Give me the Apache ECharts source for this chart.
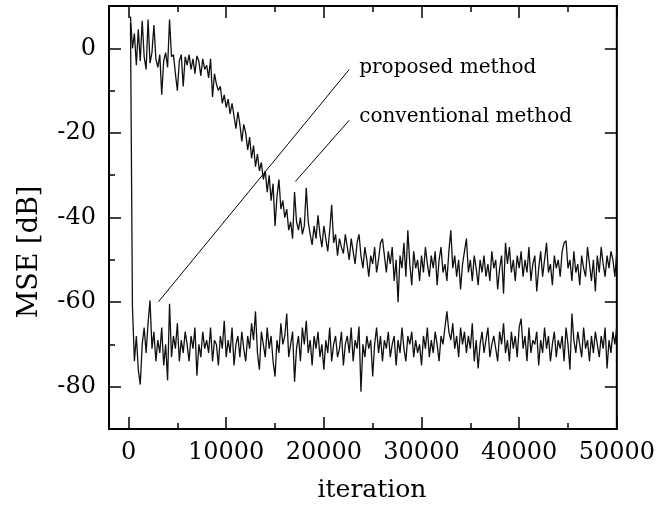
<!DOCTYPE html>
<html><head><meta charset="utf-8">
<script src="https://cdn.jsdelivr.net/npm/echarts@6/dist/echarts.min.js"></script>
<style>html,body{margin:0;padding:0;background:#fff}#c{width:658px;height:514px}</style>
</head><body><div id="c"></div>
<script>
// iteration of first sample and sample spacing
const iterStart = 200;
const iterStep = 200;
// conventional method MSE [dB], one value every 200 iterations (200..50000)
const conventional = [
 7.5, 0, 3.5, -4, 4.5, -3, 6.5, -2, -5, 6.8,
 -3.5, -1, 5.5, -2.5, -4.5, -1.5, -11, -3, -1, -4.5,
 6.8, -2, -1.5, -6, -10, -3, -1.5, -9, -2, -4,
 -1.5, -5, -2.5, -6, -1.8, -3, -6.5, -2.5, -5, -4,
 -7, -2.5, -11.5, -6, -8.5, -10, -9, -13, -11, -14,
 -12, -15.5, -13, -16, -19, -15, -18, -22, -18, -20,
 -24, -21, -26, -23, -28, -25, -29, -27, -31, -29,
 -34, -30, -36, -32, -42, -35, -31, -38, -36, -40,
 -38, -43, -41, -45, -34, -41, -43, -40, -44, -42,
 -33, -41, -44, -46.5, -42, -45, -39.5, -44, -47, -42,
 -45, -48, -43, -37, -46, -44, -49, -45, -47, -48.5,
 -44, -47, -50, -45, -48, -51, -46, -44, -49, -52,
 -47, -50, -54, -49, -51, -47, -53, -50, -46, -45,
 -49, -53, -48, -51, -47, -55, -50, -60, -49, -52,
 -46, -54, -43, -51, -56, -48, -52, -50, -55, -49,
 -53, -47, -51, -54, -49, -52, -48, -56, -50, -47,
 -53, -51, -55, -48, -43, -52, -49, -54, -50, -57,
 -51, -48, -45, -53, -50, -55, -49, -52, -56, -50,
 -53, -49, -54, -51, -55, -48, -52, -50, -57, -52,
 -49, -58, -46, -51, -47, -53, -50, -55, -49, -52,
 -48, -54, -50, -53, -47, -55, -51, -49, -57.5, -52,
 -48, -54, -50, -46, -53, -51, -56, -49, -52, -50,
 -54, -48, -46, -45.5, -52, -50, -55, -48, -53, -51,
 -56, -49, -52, -54, -47, -51, -55, -50, -57.5, -49,
 -53, -47, -51, -54, -49, -52, -48, -50, -54, -48
];
// proposed method MSE [dB], one value every 200 iterations (200..50000)
const proposed = [
 6, -61, -74, -68, -76, -79.5, -70, -66, -72, -65,
 -59.6, -71, -67, -74, -69, -72, -66, -75, -70, -78.5,
 -60.4, -73, -68, -71, -65, -74, -69, -72, -67, -70,
 -74, -68, -71, -66, -77.4, -70, -73, -67, -71, -69,
 -72, -66, -74, -69, -70, -75, -68, -71, -64.4, -73,
 -69, -72, -66, -75, -70, -68, -73, -67, -71, -74,
 -68, -71, -65, -69, -62.2, -72, -76, -67, -70, -73,
 -66, -71, -68, -74, -77.6, -69, -72, -65, -70, -68,
 -62.7, -73, -70, -67, -78.8, -71, -68, -74, -66, -70,
 -64.4, -72, -69, -75, -68, -71, -67, -73, -70, -76,
 -69, -72, -66, -74, -70, -68, -73, -71, -67, -75,
 -70, -68, -72, -66, -74, -69, -71, -65.8, -81.2, -70,
 -73, -68, -71, -69, -77.6, -70, -66, -72, -68, -74,
 -69, -71, -67, -73, -70, -68, -75, -69, -72, -66,
 -71, -74, -68, -70, -67, -73, -69, -72, -70, -75,
 -68, -71, -66, -73, -69, -72, -67, -70, -74, -68,
 -70, -66, -62.2, -67, -69, -65, -71, -68, -73, -66,
 -70, -67, -72, -68, -71, -65, -74, -69, -75.7, -70,
 -67, -72, -69, -66, -73, -70, -68, -71, -74, -67,
 -70, -65, -72, -69, -74, -67, -71, -68, -73, -66,
 -63.9, -71, -68, -74, -66, -72, -69, -70, -67, -75,
 -69, -72, -66, -71, -68, -74, -70, -67, -73, -69,
 -71, -68, -74, -66, -70, -76, -62.7, -69, -72, -67,
 -70, -73, -66, -71, -69, -74, -68, -72, -67, -70,
 -73, -68, -71, -66, -75.7, -69, -72, -67, -70, -65.6
];
// annotation leader lines [iteration, dB]
const proposedLeader = [[3070, -59.9], [22600, -5.0]];
const conventionalLeader = [[17080, -31.5], [22600, -17.0]];
const proposedText = 'proposed method';
const conventionalText = 'conventional method';
// axes
const xMin = -2000, xMax = 50000;
const yMin = -90, yMax = 10;
const xMajor = [0, 10000, 20000, 30000, 40000, 50000];
const xMinor = [5000, 15000, 25000, 35000, 45000];
const yMajor = [-80, -60, -40, -20, 0];
const yMinor = [-70, -50, -30, -10];
const xTitle = 'iteration';
const yTitle = 'MSE [dB]';

const toPairs = arr => arr.map((v, i) => [iterStart + i * iterStep, v]);
const FONT = 'DejaVu Serif';
const tickStyle = {color: '#000', width: 1.5};

function xAx(pos, major, showLabel) {
  return {
    type: 'value', position: pos, min: xMin, max: xMax,
    axisLine: {show: false, onZero: false}, splitLine: {show: false},
    axisTick: {show: true, inside: true, length: major ? 12 : 6, lineStyle: tickStyle,
      customValues: major ? xMajor : xMinor},
    axisLabel: showLabel ? {show: true, customValues: xMajor, formatter: v => String(v), color: '#000', fontFamily: FONT, fontSize: 24, margin: 12} : {show: false}
  };
}
function yAx(pos, major, showLabel) {
  return {
    type: 'value', position: pos, min: yMin, max: yMax,
    axisLine: {show: false, onZero: false}, splitLine: {show: false},
    axisTick: {show: true, inside: true, length: major ? 12 : 6, lineStyle: tickStyle,
      customValues: major ? yMajor : yMinor},
    axisLabel: showLabel ? {show: true, customValues: yMajor, formatter: v => String(v), color: '#000', fontFamily: FONT, fontSize: 24, margin: 13} : {show: false}
  };
}

const chart = echarts.init(document.getElementById('c'), null, {renderer: 'canvas'});
chart.setOption({
  animation: false,
  backgroundColor: '#fff',
  grid: {left: 109, right: 40, top: 6, bottom: 85, show: true, borderColor: '#000', borderWidth: 2, backgroundColor: 'transparent'},
  xAxis: [xAx('bottom', true, true), xAx('bottom', false, false), xAx('top', true, false), xAx('top', false, false)],
  yAxis: [yAx('left', true, true), yAx('left', false, false), yAx('right', true, false)],
  series: [
    {type: 'line', data: toPairs(conventional), showSymbol: false, lineStyle: {color: '#111', width: 1.3}},
    {type: 'line', data: toPairs(proposed), showSymbol: false, lineStyle: {color: '#111', width: 1.3}},
    {type: 'line', data: proposedLeader, showSymbol: false, lineStyle: {color: '#000', width: 1},
      endLabel: {show: true, formatter: proposedText, color: '#000', fontFamily: FONT, fontSize: 20, distance: 10, offset: [0, -2]}},
    {type: 'line', data: conventionalLeader, showSymbol: false, lineStyle: {color: '#000', width: 1},
      endLabel: {show: true, formatter: conventionalText, color: '#000', fontFamily: FONT, fontSize: 20, distance: 10, offset: [0, -3]}}
  ],
  graphic: [
    {type: 'text', x: 372, y: 490, style: {text: xTitle, fontFamily: FONT, fontSize: 25, fill: '#000', align: 'center', verticalAlign: 'middle'}},
    {type: 'text', x: 30, y: 252, rotation: Math.PI / 2, style: {text: yTitle, fontFamily: FONT, fontSize: 27, fill: '#000', align: 'center', verticalAlign: 'middle'}}
  ]
});
</script></body></html>
